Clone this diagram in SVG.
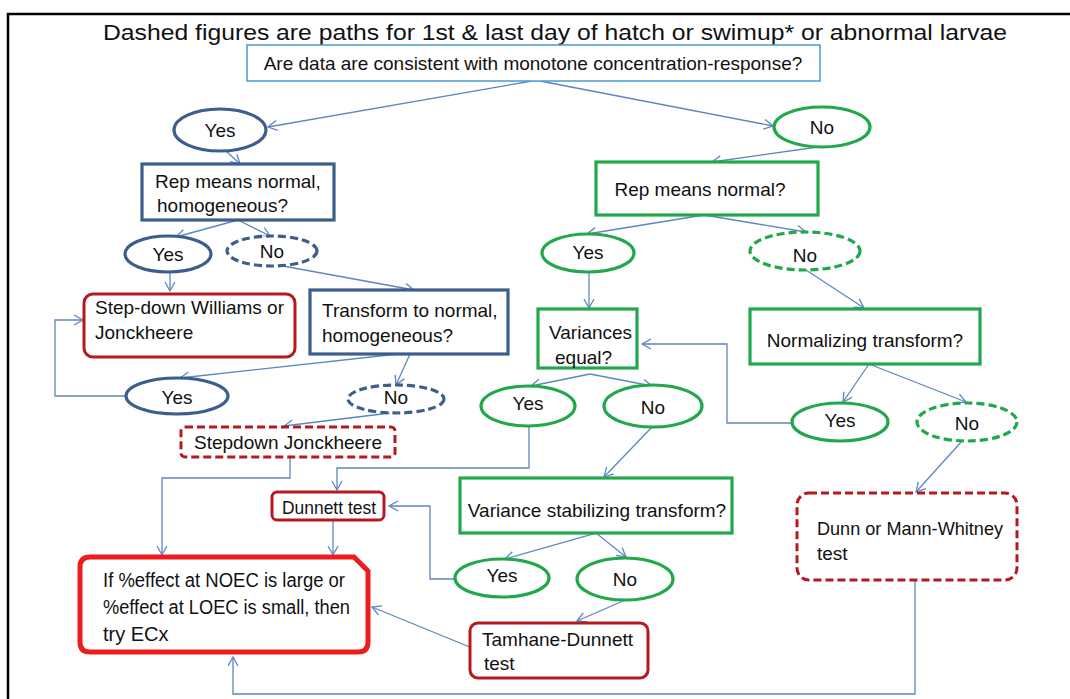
<svg xmlns="http://www.w3.org/2000/svg" width="1070" height="699" viewBox="0 0 1070 699">
<defs>
<marker id="arr" markerUnits="userSpaceOnUse" markerWidth="12" markerHeight="12" refX="9" refY="5" orient="auto" overflow="visible">
<path d="M0,0 L9,5 L0,10" fill="none" stroke="#5B87C0" stroke-width="1.3"/>
</marker>
</defs>
<style>
text{font-family:"Liberation Sans",Arial,sans-serif;font-size:19px;fill:#111}
.c{text-anchor:middle}
.blue{fill:#fff;stroke:#3B5E8C;stroke-width:3.2}
.green{fill:#fff;stroke:#22A84A;stroke-width:3.2}
.red{fill:#fff;stroke:#B51A1F;stroke-width:3}
.dash{stroke-dasharray:8 4}
.conn path{fill:none;stroke:#5B87C0;stroke-width:1.3}
</style>
<rect width="1070" height="699" fill="#fff"/>
<path d="M8,699 L8,14 L1070,14" fill="none" stroke="#000" stroke-width="2.5"/>
<text x="555" y="40" class="c" style="font-size:22px" textLength="904" lengthAdjust="spacingAndGlyphs">Dashed figures are paths for 1st &amp; last day of hatch or swimup* or abnormal larvae</text>

<g class="conn">
<path d="M532,81 L268,127" marker-end="url(#arr)"/>
<path d="M540,81 L773,126" marker-end="url(#arr)"/>
<path d="M226,151 L240,164" marker-end="url(#arr)"/>
<path d="M818,147 L712,162" marker-end="url(#arr)"/>
<path d="M238,220 L176,237" marker-end="url(#arr)"/>
<path d="M238,220 L270,236" marker-end="url(#arr)"/>
<path d="M170,272 L170,291" marker-end="url(#arr)"/>
<path d="M283,266 L414,290" marker-end="url(#arr)"/>
<path d="M398,354 L180,378" marker-end="url(#arr)"/>
<path d="M410,354 L396,385" marker-end="url(#arr)"/>
<path d="M126,396 L55,396 L55,320 L83,320" marker-end="url(#arr)"/>
<path d="M390,413 L284,426" marker-end="url(#arr)"/>
<path d="M704,215 L587,234" marker-end="url(#arr)"/>
<path d="M704,215 L806,232" marker-end="url(#arr)"/>
<path d="M589,273 L589,308" marker-end="url(#arr)"/>
<path d="M806,270 L864,308" marker-end="url(#arr)"/>
<path d="M590,374 L531,386" marker-end="url(#arr)"/>
<path d="M590,374 L652,386" marker-end="url(#arr)"/>
<path d="M869,364 L843,402" marker-end="url(#arr)"/>
<path d="M869,364 L966,402" marker-end="url(#arr)"/>
<path d="M792,423 L727,423 L727,344 L642,344" marker-end="url(#arr)"/>
<path d="M962,441 L916,492" marker-end="url(#arr)"/>
<path d="M529,426 L529,468 L337,468 L337,490" marker-end="url(#arr)"/>
<path d="M290,457 L290,478 L162,478 L162,555" marker-end="url(#arr)"/>
<path d="M333,520 L333,555" marker-end="url(#arr)"/>
<path d="M652,427 L604,477" marker-end="url(#arr)"/>
<path d="M455,579 L430,579 L430,506 L389,506" marker-end="url(#arr)"/>
<path d="M596,533 L505,559" marker-end="url(#arr)"/>
<path d="M596,533 L626,557" marker-end="url(#arr)"/>
<path d="M623,601 L577,621" marker-end="url(#arr)"/>
<path d="M477,650 L372,607" marker-end="url(#arr)"/>
<path d="M915,580 L915,694 L233,694 L233,657" marker-end="url(#arr)"/>
</g>

<g id="top"><rect x="247" y="45" width="573" height="36" fill="#fff" stroke="#4A9BD1" stroke-width="1.5"/><text x="533" y="70" class="c">Are data are consistent with monotone concentration-response?</text></g>
<g id="yes1"><ellipse cx="220" cy="130" rx="46" ry="21" class="blue"/><text x="220" y="137" class="c">Yes</text></g>
<g id="no1"><ellipse cx="822" cy="127" rx="48" ry="20" class="green"/><text x="822" y="134" class="c">No</text></g>
<g id="repH"><rect x="142" y="164" width="192" height="56" class="blue"/><text x="155" y="188">Rep means normal,</text><text x="157" y="212">homogeneous?</text></g>
<g id="repN"><rect x="596" y="162" width="222" height="53" class="green"/><text x="700" y="196" class="c">Rep means normal?</text></g>
<g id="yes2b"><ellipse cx="168" cy="254" rx="43" ry="18" class="blue"/><text x="168" y="261" class="c">Yes</text></g>
<g id="no2b"><ellipse cx="272" cy="251" rx="45" ry="15" class="blue dash"/><text x="272" y="258" class="c">No</text></g>
<g id="yes2g"><ellipse cx="588" cy="253" rx="46" ry="19" class="green"/><text x="588" y="259" class="c">Yes</text></g>
<g id="no2g"><ellipse cx="805" cy="251" rx="55" ry="19" class="green dash"/><text x="805" y="262" class="c">No</text></g>
<g id="stepW"><rect x="84" y="294" width="211" height="63" rx="9" class="red"/><text x="95" y="314">Step-down Williams or</text><text x="95" y="339">Jonckheere</text></g>
<g id="transf"><rect x="310" y="290" width="198" height="64" class="blue"/><text x="322" y="317">Transform to normal,</text><text x="322" y="342">homogeneous?</text></g>
<g id="yes3b"><ellipse cx="177" cy="396" rx="51" ry="18" class="blue"/><text x="177" y="404" class="c">Yes</text></g>
<g id="no3b"><ellipse cx="396" cy="399" rx="48" ry="14" class="blue dash"/><text x="396" y="404" class="c">No</text></g>
<g id="stepJ"><rect x="181" y="427" width="214" height="30" rx="4" class="red dash"/><text x="288" y="449" class="c">Stepdown Jonckheere</text></g>
<g id="variances"><rect x="538" y="309" width="99" height="59" class="green"/><text x="549" y="339">Variances</text><text x="555" y="364">equal?</text></g>
<g id="normalizing"><rect x="750" y="309" width="230" height="55" class="green"/><text x="865" y="347" class="c">Normalizing transform?</text></g>
<g id="yes4"><ellipse cx="528" cy="406" rx="47" ry="20" class="green"/><text x="528" y="410" class="c">Yes</text></g>
<g id="no4"><ellipse cx="653" cy="406" rx="49" ry="21" class="green"/><text x="653" y="414" class="c">No</text></g>
<g id="yes5"><ellipse cx="840" cy="422" rx="48" ry="19" class="green"/><text x="840" y="427" class="c">Yes</text></g>
<g id="no5"><ellipse cx="967" cy="422" rx="50" ry="19" class="green dash"/><text x="967" y="430" class="c">No</text></g>
<g id="dunnett"><rect x="272" y="492" width="112" height="28" rx="5" class="red"/><text x="282" y="514" textLength="94" lengthAdjust="spacingAndGlyphs">Dunnett test</text></g>
<g id="vst"><rect x="460" y="478" width="272" height="55" class="green"/><text x="597" y="517" class="c">Variance stabilizing transform?</text></g>
<g id="yes6"><ellipse cx="502" cy="578" rx="47" ry="19" class="green"/><text x="502" y="582" class="c">Yes</text></g>
<g id="no6"><ellipse cx="625" cy="579" rx="48" ry="21" class="green"/><text x="625" y="586" class="c">No</text></g>
<g id="dunn"><rect x="797" y="493" width="220" height="87" rx="12" class="red dash"/><text x="817" y="535" textLength="186" lengthAdjust="spacingAndGlyphs">Dunn or Mann-Whitney</text><text x="817" y="560">test</text></g>
<g id="ecx"><path d="M90,557 L354,557 L368,571 L368,642 Q368,652 358,652 L90,652 Q80,652 80,642 L80,567 Q80,557 90,557 Z" fill="#fff" stroke="#EE1C1C" stroke-width="5"/>
<text x="103" y="587" textLength="242" lengthAdjust="spacingAndGlyphs" style="font-size:20px">If %effect at NOEC is large or</text>
<text x="103" y="614" textLength="247" lengthAdjust="spacingAndGlyphs" style="font-size:20px">%effect at LOEC is small, then</text>
<text x="103" y="641" style="font-size:20px">try ECx</text></g>
<g id="tamhane"><rect x="470" y="623" width="178" height="55" rx="8" class="red"/><text x="482" y="646">Tamhane-Dunnett</text><text x="484" y="670">test</text></g>
</svg>
